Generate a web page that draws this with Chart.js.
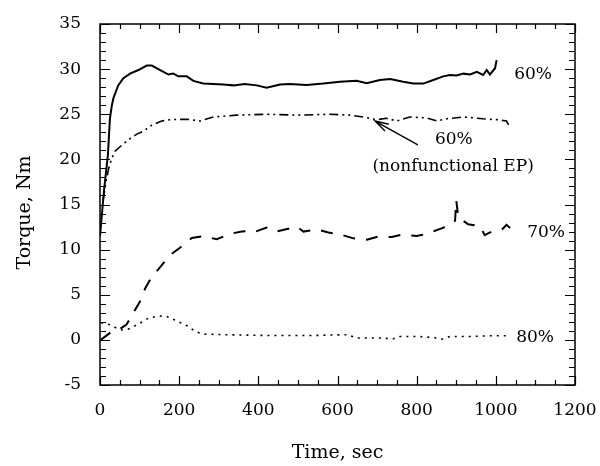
<!DOCTYPE html>
<html>
<head>
<meta charset="utf-8">
<script src="https://cdn.jsdelivr.net/npm/chart.js@4.4.1/dist/chart.umd.min.js"></script>
<style>
  html, body { margin: 0; padding: 0; background: #ffffff; }
  #wrap { width: 600px; height: 466px; }
</style>
</head>
<body>
<div id="wrap"><canvas id="c" width="600" height="466"></canvas></div>
<script>
// ---- Data ----
const xTicks = [0, 200, 400, 600, 800, 1000, 1200];
const yTicks = [-5, 0, 5, 10, 15, 20, 25, 30, 35];

// 60% (solid)
const time60 = [0, 5, 10, 15, 20, 25, 30, 34, 46, 59, 76, 97, 118, 131, 152, 173, 185, 198, 219, 236, 261, 312, 337, 366, 396, 421, 455, 480, 522, 564, 606, 648, 674, 707, 733, 766, 792, 817, 842, 867, 884, 901, 918, 935, 952, 968, 977, 985, 998, 1002];
const torque60 = [11.5, 14, 16.5, 18.5, 20.5, 24.5, 26, 26.8, 28.2, 29.0, 29.5, 29.9, 30.4, 30.4, 29.9, 29.4, 29.5, 29.2, 29.2, 28.7, 28.4, 28.3, 28.2, 28.35, 28.2, 27.95, 28.3, 28.35, 28.25, 28.4, 28.6, 28.7, 28.45, 28.8, 28.9, 28.6, 28.4, 28.4, 28.8, 29.2, 29.35, 29.3, 29.5, 29.4, 29.7, 29.35, 29.9, 29.4, 30.1, 31.0];

// 60% nonfunctional EP (dash-dot-dot)
const time60nf = [8, 15, 22, 29.5, 38, 50.5, 63, 76, 93, 109, 131, 156, 177, 219, 253, 286, 345, 421, 497, 581, 632, 665, 699, 724, 750, 783, 825, 851, 876, 918, 968, 1002, 1027, 1036];
const torque60nf = [15.5, 17.5, 19, 20.1, 20.9, 21.4, 21.85, 22.3, 22.8, 23.1, 23.8, 24.25, 24.4, 24.45, 24.25, 24.7, 24.9, 25.0, 24.9, 25.0, 24.9, 24.7, 24.4, 24.55, 24.25, 24.7, 24.6, 24.25, 24.5, 24.7, 24.5, 24.4, 24.25, 23.5];

// 70% (dashed)
const time70 = [2, 29, 50, 67, 84, 101, 114, 131, 152, 177, 202, 232, 261, 295, 328, 358, 375, 387, 421, 446, 484, 497, 514, 547, 577, 606, 640, 674, 699, 737, 762, 800, 825, 863, 884, 897, 900, 905, 930, 960, 972, 985, 1015, 1027, 1036];
const torque70 = [0, 0.9, 1.2, 1.7, 3.0, 4.25, 5.7, 7.0, 8.05, 9.4, 10.2, 11.3, 11.5, 11.15, 11.75, 12.0, 12.05, 11.9, 12.45, 12.0, 12.4, 12.55, 12.0, 12.25, 11.9, 11.7, 11.25, 11.1, 11.4, 11.4, 11.65, 11.5, 11.75, 12.35, 12.75, 13.2, 15.5, 13.6, 12.8, 12.6, 11.6, 11.9, 12.2, 12.75, 12.4];

// 80% (dotted)
const time80 = [3, 8, 25, 42, 55, 72, 88, 101, 122, 147, 168, 189, 206, 223, 240, 261, 328, 430, 531, 606, 627, 648, 707, 741, 758, 800, 842, 863, 884, 935, 985, 1027];
const torque80 = [1.9, 1.85, 1.67, 1.3, 1.1, 1.2, 1.55, 1.85, 2.4, 2.65, 2.6, 2.2, 1.85, 1.5, 0.93, 0.64, 0.56, 0.48, 0.48, 0.56, 0.56, 0.2, 0.2, 0.12, 0.38, 0.38, 0.27, 0.08, 0.38, 0.38, 0.45, 0.45];

// Curve labels (text and data-space anchor)
const labelTexts = ["60%", "60%", "(nonfunctional EP)", "70%", "80%"];
const labelTimes = [1094, 894, 892, 1127, 1099];
const labelTorques = [29.35, 22.15, 19.2, 11.85, 0.2];

// Arrow (tail -> tip) in data space
const arrowTime = [803, 695];
const arrowTorque = [21.6, 24.25];

const xTitle = "Time, sec";
const yTitle = "Torque, Nm";

// ---- Build ----
const pts = (t, v) => t.map((x, i) => ({ x: x, y: v[i] }));
const FONT = '"DejaVu Serif", "Liberation Serif", serif';

const decor = {
  id: 'decor',
  afterDraw(chart) {
    const { ctx, chartArea: a, scales: { x, y } } = chart;
    ctx.save();
    ctx.strokeStyle = '#000';
    ctx.lineWidth = 1.5;
    ctx.strokeRect(a.left, a.top, a.right - a.left, a.bottom - a.top);
    ctx.lineWidth = 1.2;
    ctx.beginPath();
    for (let v = xTicks[0]; v <= xTicks[xTicks.length - 1]; v += 50) {
      const p = Math.round(x.getPixelForValue(v)) + 0.5;
      const L = (v % 200 === 0) ? 9 : 5;
      ctx.moveTo(p, a.bottom); ctx.lineTo(p, a.bottom - L);
      ctx.moveTo(p, a.top); ctx.lineTo(p, a.top + L);
    }
    for (let v = yTicks[0]; v <= yTicks[yTicks.length - 1]; v += 1) {
      const p = Math.round(y.getPixelForValue(v)) + 0.5;
      const L = (v % 5 === 0) ? 10 : 6;
      ctx.moveTo(a.left, p); ctx.lineTo(a.left + L, p);
      ctx.moveTo(a.right, p); ctx.lineTo(a.right - L, p);
    }
    ctx.stroke();

    // curve labels
    ctx.fillStyle = '#000';
    ctx.font = '17px ' + FONT;
    ctx.textAlign = 'center';
    ctx.textBaseline = 'middle';
    labelTexts.forEach((txt, i) => {
      ctx.fillText(txt, x.getPixelForValue(labelTimes[i]), y.getPixelForValue(labelTorques[i]));
    });

    // y-axis title
    ctx.save();
    ctx.font = '19px ' + FONT;
    ctx.translate(25, (a.top + a.bottom) / 2 + 8);
    ctx.rotate(-Math.PI / 2);
    ctx.fillText(yTitle, 0, 0);
    ctx.restore();

    // arrow
    const x0 = x.getPixelForValue(arrowTime[0]), y0 = y.getPixelForValue(arrowTorque[0]);
    const x1 = x.getPixelForValue(arrowTime[1]), y1 = y.getPixelForValue(arrowTorque[1]);
    ctx.lineWidth = 1.4;
    ctx.beginPath();
    ctx.moveTo(x0, y0); ctx.lineTo(x1, y1);
    const ang = Math.atan2(y0 - y1, x0 - x1);
    const hl = 14, hw = 0.28;
    ctx.moveTo(x1 + hl * Math.cos(ang - hw), y1 + hl * Math.sin(ang - hw));
    ctx.lineTo(x1, y1);
    ctx.lineTo(x1 + hl * Math.cos(ang + hw), y1 + hl * Math.sin(ang + hw));
    ctx.stroke();
    ctx.restore();
  }
};

const common = { fill: false, pointRadius: 0, tension: 0, borderColor: '#000', borderCapStyle: 'butt' };

new Chart(document.getElementById('c'), {
  type: 'line',
  data: {
    datasets: [
      Object.assign({ label: '60%', data: pts(time60, torque60), borderWidth: 2 }, common),
      Object.assign({ label: '60% (nonfunctional EP)', data: pts(time60nf, torque60nf), borderWidth: 1.6, borderDash: [9, 4, 2, 4, 2, 4] }, common),
      Object.assign({ label: '70%', data: pts(time70, torque70), borderWidth: 2, borderDash: [12, 11] }, common),
      Object.assign({ label: '80%', data: pts(time80, torque80), borderWidth: 1.6, borderDash: [2, 5] }, common)
    ]
  },
  options: {
    responsive: false,
    animation: false,
    layout: { padding: { left: 0, right: 25, top: 24, bottom: 0 } },
    plugins: { legend: { display: false }, tooltip: { enabled: false } },
    scales: {
      x: {
        type: 'linear', min: 0, max: 1200,
        afterFit: s => { s.height = 81; s.paddingLeft = 0; s.paddingRight = 0; },
        afterBuildTicks: s => { s.ticks = xTicks.map(v => ({ value: v })); },
        grid: { display: false, drawTicks: false },
        border: { display: false },
        ticks: { color: '#000', font: { family: FONT, size: 17 }, padding: 15, maxRotation: 0, callback: v => String(v) },
        title: { display: true, text: xTitle, color: '#000', font: { family: FONT, size: 19 }, padding: { top: 0, bottom: 2 } }
      },
      y: {
        type: 'linear', min: -5, max: 35,
        afterFit: s => { s.width = 100; s.paddingTop = 0; s.paddingBottom = 0; },
        afterBuildTicks: s => { s.ticks = yTicks.map(v => ({ value: v })); },
        grid: { display: false, drawTicks: false },
        border: { display: false },
        ticks: { color: '#000', font: { family: FONT, size: 17 }, padding: 19, callback: v => String(v) },
        title: { display: false }
      }
    }
  },
  plugins: [decor]
});
</script>
</body>
</html>
